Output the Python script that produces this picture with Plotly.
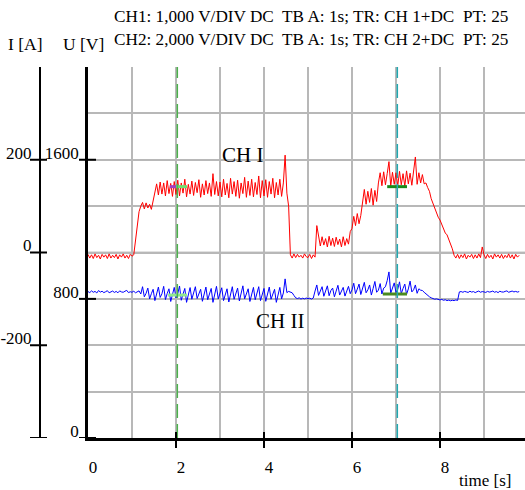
import numpy as np
import plotly.graph_objects as go

# ---------------- data ----------------
# sample times [s] (0.04 s grid, 0 .. 9.80)
t = np.round(np.arange(0, 246) * 0.04, 2)

# CH I  current [A]
i_ch1 = [
    -4, -12, -5, -13, -3, -11, -6, -14, -4, -10, -5, -13, -3, -12, -6, -11, -4, -14, -5, -10, -3, -12, -6, -13, -4,
    -8, -5, 30, 65, 88, 100, 108, 94, 107, 96, 104, 93, 112, 128, 148, 124, 152, 126, 150, 122, 155, 127, 149, 121, 153,
    125, 156, 122, 150, 128, 158, 120, 147, 126, 154, 123, 151, 129, 157, 119, 148, 124, 155, 127, 150, 121, 170, 125, 153, 122,
    152, 120, 158, 124, 149, 118, 160, 126, 153, 121, 156, 117, 150, 127, 162, 119, 154, 123, 158, 120, 151, 125, 165, 118, 155,
    122, 157, 119, 153, 126, 160, 118, 151, 124, 158, 121, 150, 210, 128, 100, -5, -12, -3, -11, -4, -10, -6, -12, -3, -9,
    -11, -4, -13, -5, -10, 58, 32, 14, 34, 16, 30, 12, 35, 15, 31, 13, 33, 17, 29, 12, 34, 15, 30, 18, 45,
    52, 78, 58, 84, 62, 80, 112, 136, 104, 132, 108, 138, 102, 134, 110, 150, 172, 144, 174, 146, 170, 196, 143, 173, 147,
    172, 144, 175, 146, 170, 143, 176, 148, 171, 145, 174, 206, 147, 172, 150, 168, 148, 150, 140, 132, 116, 106, 94, 86, 76,
    70, 60, 54, 42, 38, 28, 22, 8, -6, -12, -4, -13, -5, -11, -3, -14, -6, -10, -4, -13, -5, -12, -3, -11, 12,
    -5, -13, -4, -11, -6, -14, -3, -10, -5, -12, -4, -13, -6, -11, -3, -12, -5, -14, -4, -10, -6,
]

# CH II  voltage [V]
u_ch2 = [
    842, 836, 846, 838, 843, 834, 848, 839, 844, 836, 841, 847, 835, 842, 845, 837, 843, 835, 846, 840, 838, 844, 849, 836, 841,
    838, 844, 835, 841, 846, 828, 870, 812, 832, 862, 800, 830, 855, 790, 834, 868, 808, 829, 872, 796, 831, 858, 785, 833, 866,
    805, 830, 874, 792, 828, 860, 780, 832, 865, 798, 829, 870, 802, 834, 855, 786, 830, 868, 795, 827, 860, 780, 833, 872, 800,
    828, 864, 790, 831, 858, 782, 829, 870, 798, 833, 862, 788, 827, 875, 800, 830, 858, 785, 834, 866, 795, 829, 870, 790, 832,
    860, 786, 830, 868, 798, 828, 855, 780, 831, 866, 800, 834, 915, 836, 843, 838, 835, 820, 806, 802, 806, 799, 804, 800, 805,
    801, 804, 799, 805, 845, 880, 820, 846, 870, 815, 842, 875, 818, 848, 862, 812, 845, 878, 822, 843, 866, 816, 847, 872, 830,
    852, 890, 830, 856, 885, 825, 858, 895, 835, 852, 880, 822, 860, 900, 838, 850, 888, 828, 862, 870, 905, 955, 832, 858, 892,
    836, 855, 898, 830, 860, 885, 826, 857, 902, 840, 852, 880, 832, 858, 850, 848, 838, 828, 818, 812, 806, 802, 798, 800, 796,
    794, 797, 792, 795, 790, 793, 789, 792, 790, 794, 791, 840, 842, 838, 843, 840, 837, 844, 839, 842, 836, 841, 845, 838, 842,
    840, 837, 843, 839, 841, 845, 838, 842, 836, 844, 840, 839, 843, 846, 838, 841, 845, 840, 843, 839, 842,
]

# cursor positions [s] and cursor read-out marks
cursor_t = [2.03, 7.03]
mark_i_t = [[1.86, 2.0], [2.0, 2.25], [6.8, 7.25]]
mark_i_v = [142, 142, 142]
mark_u_t = [[1.82, 2.25], [6.7, 7.25]]
mark_u_v = [822, 828]

# axis ticks
x_ticks = list(range(0, 10))
x_labels = ['0', '', '2', '', '4', '', '6', '', '8', '']
u_div = 800 / 3
u_ticks = [k * u_div for k in range(8)]
u_labels = ['0', '', '', '800', '', '', '1600', '']
i_ticks = [-200, 0, 200]
i_labels = ['-200', '0', '200']

header1 = "CH1: 1,000 V/DIV DC  TB A: 1s; TR: CH 1+DC  PT: 25"
header2 = "CH2: 2,000 V/DIV DC  TB A: 1s; TR: CH 2+DC  PT: 25"

# ---------------- figure ----------------
W, H = 525, 490
SERIF = "Liberation Serif"
x_left, x_right = 88, 525
y_top, y_bot = 67, 438
px_per_s = 44

fig = go.Figure()

fig.add_trace(go.Scatter(x=t, y=i_ch1, mode='lines', yaxis='y2',
                         line=dict(color='#ff0000', width=1), showlegend=False))
fig.add_trace(go.Scatter(x=t, y=u_ch2, mode='lines', yaxis='y',
                         line=dict(color='#0000ff', width=1), showlegend=False))

i_mark_colors = ['#a040c0', '#70e070', '#1a8a1a']
for tt, vv, cc in zip(mark_i_t, mark_i_v, i_mark_colors):
    fig.add_trace(go.Scatter(x=tt, y=[vv, vv], mode='lines', yaxis='y2',
                             line=dict(color=cc, width=3), showlegend=False))
u_mark_colors = ['#90e890', '#4a8a20']
for tt, vv, cc in zip(mark_u_t, mark_u_v, u_mark_colors):
    fig.add_trace(go.Scatter(x=tt, y=[vv, vv], mode='lines', yaxis='y',
                             line=dict(color=cc, width=3), showlegend=False))

shapes = []
# darker center lines
shapes.append(dict(type='line', xref='x', yref='paper', x0=5, x1=5,
                   y0=(H - y_bot) / H, y1=(H - y_top) / H, line=dict(color='#8c8c8c', width=1.5), layer='below'))
shapes.append(dict(type='line', xref='paper', yref='y2', x0=x_left / W, x1=1, y0=0, y1=0,
                   line=dict(color='#8c8c8c', width=1.5), layer='below'))
# cursors
for ct, col in zip(cursor_t, ['#4cb04c', '#20a8b0']):
    shapes.append(dict(type='line', xref='x', yref='paper', x0=ct, x1=ct,
                       y0=(H - y_bot) / H, y1=(H - y_top) / H,
                       line=dict(color=col, width=1.5, dash='14px,6px')))
# crossing tick marks on the I axis
for v in [200, 0, -200, -400]:
    shapes.append(dict(type='line', xref='paper', yref='y2', x0=30 / W, x1=47 / W, y0=v, y1=v,
                       line=dict(color='black', width=2)))
# crossing tick marks on the U axis
for v in [1600, 800, 0]:
    shapes.append(dict(type='line', xref='paper', yref='y', x0=79 / W, x1=96 / W, y0=v, y1=v,
                       line=dict(color='black', width=2)))
# crossing tick marks on the time axis
for v in [2, 4, 6, 8]:
    shapes.append(dict(type='line', xref='x', yref='paper', x0=v, x1=v,
                       y0=(H - 448) / H, y1=(H - 432) / H, line=dict(color='black', width=2)))

annotations = [
    dict(text=header1, x=112 / W, y=(H - 17) / H, xref='paper', yref='paper', xanchor='left', yanchor='middle',
         showarrow=False, font=dict(family=SERIF, size=17.2, color='black')),
    dict(text=header2, x=112 / W, y=(H - 40) / H, xref='paper', yref='paper', xanchor='left', yanchor='middle',
         showarrow=False, font=dict(family=SERIF, size=17.2, color='black')),
    dict(text="I [A]", x=25 / W, y=(H - 44) / H, xref='paper', yref='paper', xanchor='center', yanchor='middle',
         showarrow=False, font=dict(family=SERIF, size=17.5, color='black')),
    dict(text="U [V]", x=83 / W, y=(H - 44) / H, xref='paper', yref='paper', xanchor='center', yanchor='middle',
         showarrow=False, font=dict(family=SERIF, size=17.5, color='black')),
    dict(text="time [s]", x=485 / W, y=(H - 480) / H, xref='paper', yref='paper', xanchor='center', yanchor='middle',
         showarrow=False, font=dict(family=SERIF, size=17, color='black')),
    dict(text="CH I", x=3.52, y=211, xref='x', yref='y2', xanchor='center', yanchor='middle',
         showarrow=False, font=dict(family=SERIF, size=21, color='black')),
    dict(text="CH II", x=4.36, y=673, xref='x', yref='y', xanchor='center', yanchor='middle',
         showarrow=False, font=dict(family=SERIF, size=21, color='black')),
]

tickfont = dict(family=SERIF, size=17, color='black')
fig.update_layout(
    width=W, height=H,
    margin=dict(l=0, r=0, t=0, b=0, autoexpand=False),
    paper_bgcolor='white', plot_bgcolor='white',
    showlegend=False,
    xaxis=dict(domain=[x_left / W, 1], range=[0, (x_right - x_left) / px_per_s], automargin=False,
               tickmode='array', tickvals=x_ticks, ticktext=x_labels,
               showgrid=True, gridcolor='#b8b8b8', gridwidth=1.5, zeroline=False,
               showline=True, linecolor='black', linewidth=2.5, ticks='',
               tickfont=tickfont, ticklabelshift=5, ticklabelstandoff=12),
    yaxis=dict(domain=[(H - y_bot) / H, (H - y_top) / H], range=[0, 8 * u_div], automargin=False,
               tickmode='array', tickvals=u_ticks, ticktext=u_labels,
               showgrid=True, gridcolor='#b8b8b8', gridwidth=1.5, zeroline=False,
               showline=True, linecolor='black', linewidth=2.5, ticks='',
               tickfont=tickfont, ticklabelshift=-7, ticklabelstandoff=3),
    yaxis2=dict(overlaying='y', anchor='free', position=40 / W, side='left', automargin=False,
                range=[-400, 400], tickmode='array', tickvals=i_ticks, ticktext=i_labels,
                showgrid=False, zeroline=False, showline=True, linecolor='black', linewidth=2,
                ticks='', tickfont=tickfont, ticklabelshift=-7, ticklabelstandoff=4),
    shapes=shapes,
    annotations=annotations,
)

fig.write_html("out.html")
